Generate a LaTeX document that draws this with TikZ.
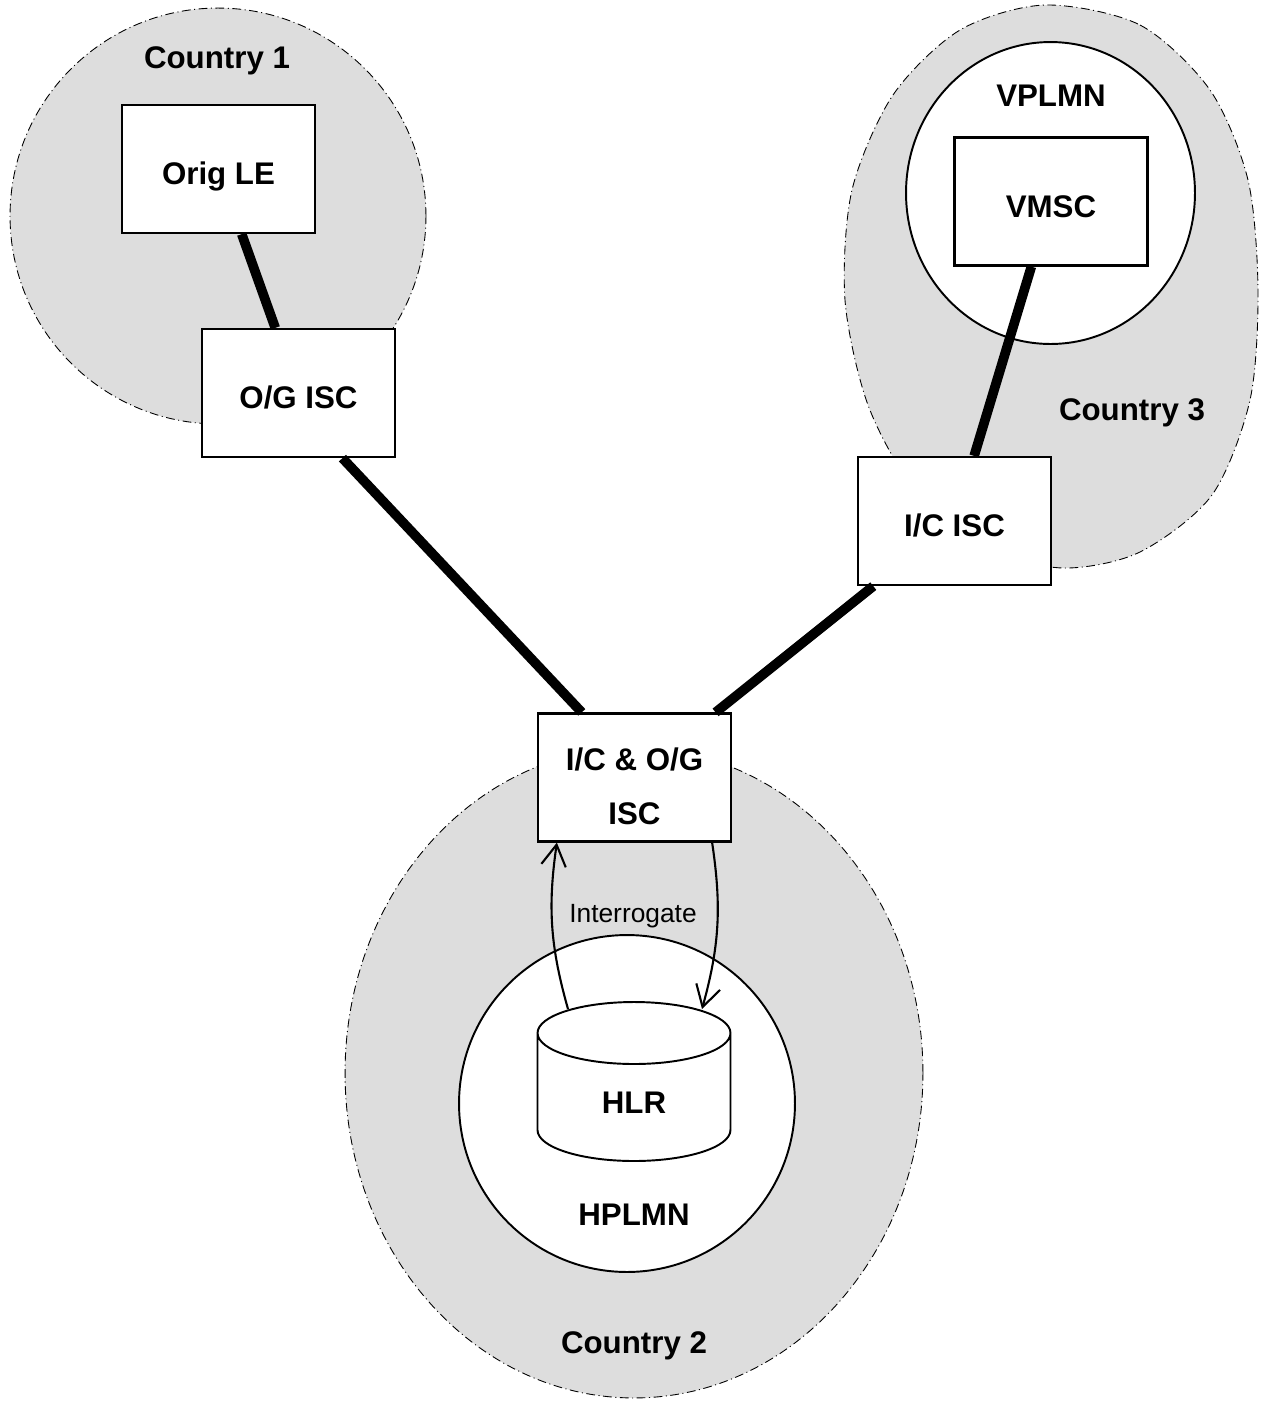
\documentclass[tikz,border=0pt]{standalone}
\usepackage{fontspec}
\setmainfont{Liberation Sans}
\usetikzlibrary{arrows.meta, calc}
\definecolor{landgray}{RGB}{221,221,221}

\begin{document}
\begin{tikzpicture}[
			x=0.02cm, y=-0.02cm,
			every node/.style={font=\bfseries\fontsize{17.8}{30.6}\selectfont, align=center},
			caption/.style={text height=12.8pt, text depth=0pt},
			country/.style={draw, fill=landgray, line width=0.5pt, dash pattern=on 5pt off 2pt on 0.6pt off 2pt},
			network/.style={draw, fill=white, line width=1.1pt},
			switchbox/.style={draw, fill=white, line width=1.3pt, minimum width=3.86cm, minimum height=2.56cm},
			exchange/.style={switchbox, text height=18pt, text depth=0pt},
			trunk/.style={line width=5.5pt},
			query/.style={-{Straight Barb[length=12pt,width=14pt]}, line width=1.2pt}
			]
			
			\useasboundingbox (0,0) rectangle (1268,1401);
			
			% countries
			\draw[country] (218,216) ellipse [x radius=4.16cm, y radius=4.16cm];
			\draw[country] plot[smooth cycle] coordinates {(1045,5) (1140,25) (1210,90) (1248,180) (1258,290) (1250,400) (1212,495) (1140,552) (1063,568) (985,548) (915,490) (868,405) (845,300) (852,190) (893,95) (960,30)};
			\draw[country] (634,1073) ellipse [x radius=5.78cm, y radius=6.5cm];
			
			% mobile networks
			\draw[network] (1050.5,193) ellipse [x radius=2.89cm, y radius=3.02cm];
			\draw[network] (627,1103.5) ellipse [x radius=3.36cm, y radius=3.37cm];
			
			\node[caption] (c1) at (217,57) {Country 1};
			\node[caption] (c3) at (1132,409) {Country 3};
			\node[caption] (c2) at (634,1342) {Country 2};
			\node[caption] (vplmn) at (1051,95) {VPLMN};
			\node[caption] (hplmn) at (634,1214) {HPLMN};
			
			\node[exchange] (orig) at (218.5,169) {Orig LE};
			\node[exchange] (ogisc) at (298.5,393) {O/G ISC};
			\node[exchange] (vmsc) at (1051,201.5) {VMSC};
			\node[exchange] (icisc) at (954.5,521) {I/C ISC};
			\node[switchbox] (icog) at (634.5,777.5) {\rule{0pt}{22.6pt}I/C \& O/G\\ISC};
			
			% database
			\coordinate (hlrpos) at (634,1102);
			\draw[network] ($(hlrpos)+(-96.5,-69)$) -- ($(hlrpos)+(-96.5,28)$)
				arc[start angle=180, end angle=360, x radius=1.93cm, y radius=0.62cm]
				-- ($(hlrpos)+(96.5,-69)$)
				arc[start angle=0, end angle=360, x radius=1.93cm, y radius=0.62cm];
			\node[caption] (hlr) at (hlrpos) {HLR};
			\coordinate (hlrw) at ($(hlrpos)+(-66,-93)$);
			\coordinate (hlre) at ($(hlrpos)+(68,-93)$);
			
			\draw[trunk] (orig) -- (ogisc);
			\draw[trunk] (ogisc.-56) -- (icog.129);
			\draw[trunk] (vmsc) -- (icisc);
			\draw[trunk] (icisc) -- (icog);
			
			\draw[query] (hlrw) to[bend left=12] (icog.-140);
			\draw[query] (icog.-40) to[bend left=12] (hlre);
			\node[font=\fontsize{15}{18}\selectfont, text height=10.8pt, text depth=0pt] (interr) at (633,913) {Interrogate};
			
			\end{tikzpicture}
\end{document}
